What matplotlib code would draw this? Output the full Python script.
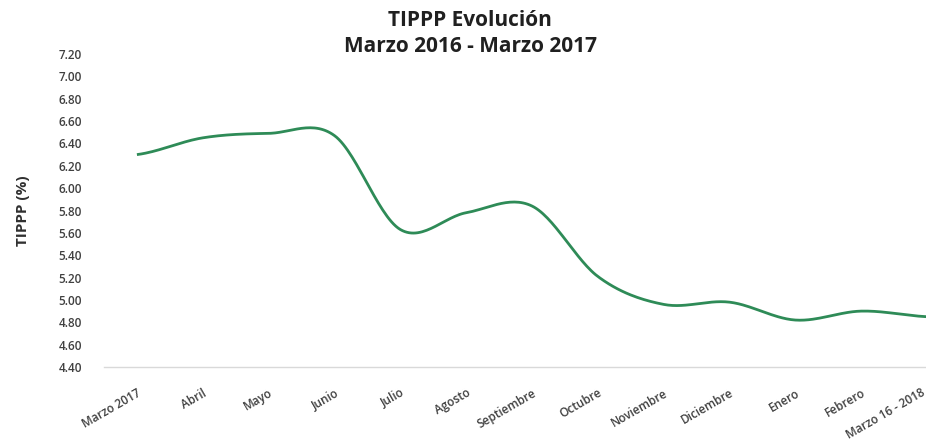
import numpy as np
import matplotlib
matplotlib.use("Agg")
import matplotlib.pyplot as plt
import matplotlib.transforms as mtransforms

plt.rcParams.update({
    "font.family": ["Open Sans", "DejaVu Sans"],
})

# data
months = ["Marzo 2017", "Abril", "Mayo", "Junio", "Julio", "Agosto",
          "Septiembre", "Octubre", "Noviembre", "Diciembre", "Enero",
          "Febrero", "Marzo 16 - 2018"]
tippp = [6.30, 6.45, 6.49, 6.47, 5.63, 5.78, 5.84, 5.21, 4.96, 4.98,
         4.82, 4.90, 4.85]
yticks = [4.40 + 0.2 * i for i in range(15)]


def smooth(y, n=30):
    # Catmull-Rom style curve, like Excel's "smoothed line"
    y = np.asarray(y, dtype=float)
    p = np.concatenate([[y[0]], y, [y[-1]]])
    xs, ys = [], []
    for i in range(len(y) - 1):
        p0, p1, p2, p3 = p[i], p[i + 1], p[i + 2], p[i + 3]
        m1 = (p2 - p0) / 2
        m2 = (p3 - p1) / 2
        t = np.linspace(0, 1, n, endpoint=False)
        h00 = 2 * t**3 - 3 * t**2 + 1
        h10 = t**3 - 2 * t**2 + t
        h01 = -2 * t**3 + 3 * t**2
        h11 = t**3 - t**2
        xs.append(i + t)
        ys.append(h00 * p1 + h10 * m1 + h01 * p2 + h11 * m2)
    xs.append([len(y) - 1])
    ys.append([y[-1]])
    return np.concatenate(xs), np.concatenate(ys)


fig = plt.figure(figsize=(9.26, 4.48), dpi=100)
ax = fig.add_axes([104 / 926, 81 / 448, 856 / 926, 313 / 448])

xs, ys = smooth(tippp)
ax.plot(xs, ys, color="#2E8B57", linewidth=2, solid_capstyle="butt")

ax.set_xlim(-0.5, len(months) - 0.5)
ax.set_ylim(4.4, 7.2)
ax.set_yticks(yticks)
ax.set_yticklabels([f"{v:.2f}" for v in yticks], fontsize=8.5,
                   color="#404040", fontweight="semibold")
ax.set_xticks(range(len(months)))
ax.set_xticklabels(months, rotation=30, ha="right", rotation_mode="anchor",
                   fontsize=8.5, color="#404040", fontweight="semibold")
ax.tick_params(axis="y", length=0, pad=16)
ax.tick_params(axis="x", length=0, pad=14)

# last label sits a little left so it stays inside the picture
last = ax.get_xticklabels()[-1]
last.set_transform(last.get_transform() +
                   mtransforms.ScaledTranslation(-6 / 100, 0, fig.dpi_scale_trans))

for s in ["top", "right", "left"]:
    ax.spines[s].set_visible(False)
ax.spines["bottom"].set_color("#d9d9d9")
ax.spines["bottom"].set_linewidth(1)

ax.set_ylabel("TIPPP (%)", fontsize=11, fontweight="bold", color="#303030",
              labelpad=20)

fig.text(470 / 926, 1 - 20 / 448, "TIPPP Evolución", ha="center",
         va="center", fontsize=15, fontweight="bold", color="#202020")
fig.text(470 / 926, 1 - 47 / 448, "Marzo 2016 - Marzo 2017", ha="center",
         va="center", fontsize=15, fontweight="bold", color="#202020")

fig.savefig("out.png", dpi=100)
